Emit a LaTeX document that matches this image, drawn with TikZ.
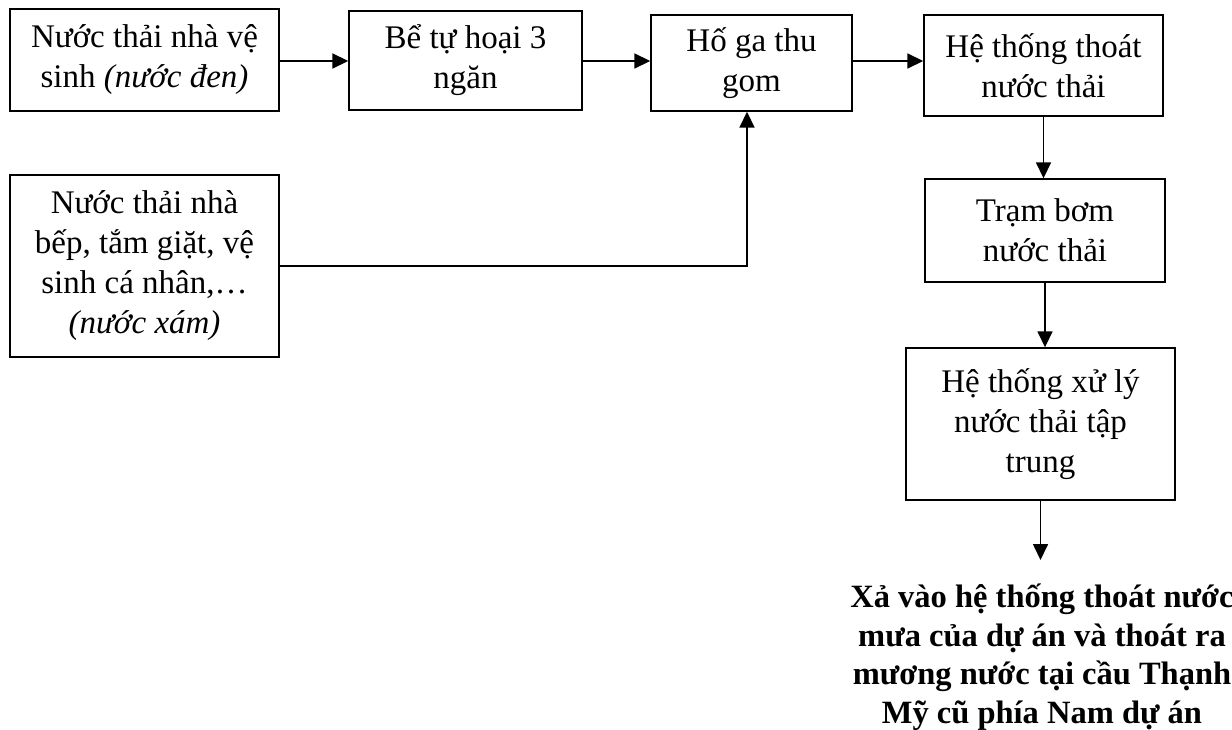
\documentclass[tikz,border=0pt]{standalone}
\usepackage{fontspec}
\setmainfont{Liberation Serif}
\usetikzlibrary{arrows.meta}
\begin{document}
\begin{tikzpicture}[x=1pt,y=-1pt,
  box/.style={draw, line width=1.4pt, align=center, inner sep=0pt, font=\fontsize{33}{40}\selectfont},
  arr/.style={line width=1.7pt, -{Triangle[length=16pt,width=15pt]}}]
\useasboundingbox (0,0) rectangle (1232,730);
\node[box, minimum width=269pt, minimum height=102pt] (b1) at (144.5,60) {Nước thải nhà vệ\\sinh \textit{(nước đen)}};
\node[box, minimum width=233pt, minimum height=99pt] (b2) at (465.5,60.5) {Bể tự hoại 3\\ngăn};
\node[box, minimum width=201pt, minimum height=96pt] (b3) at (751.5,63) {Hố ga thu\\gom};
\node[box, minimum width=239pt, minimum height=101pt] (b4) at (1043.5,65.5) {Hệ thống thoát\\nước thải};
\node[box, minimum width=269pt, minimum height=182pt] (b5) at (144.5,266) {Nước thải nhà\\bếp, tắm giặt, vệ\\sinh cá nhân,…\\\textit{(nước xám)}};
\node[box, minimum width=240pt, minimum height=103pt] (b6) at (1045,230.5) {Trạm bơm\\nước thải};
\node[box, minimum width=269pt, minimum height=152pt] (b7) at (1040.5,424) {Hệ thống xử lý\\nước thải tập\\trung};
\node[align=center, inner xsep=0pt, inner ysep=24pt, anchor=north, font=\bfseries\fontsize{32.5}{38.5}\selectfont] (out) at (1042,560) {Xả vào hệ thống thoát nước\\mưa của dự án và thoát ra\\mương nước tại cầu Thạnh\\Mỹ cũ phía Nam dự án};
\coordinate (r) at (0,61);
\draw[arr] (b1.east |- r) -- (b2.west |- r);
\draw[arr] (b2.east |- r) -- (b3.west |- r);
\draw[arr] (b3.east |- r) -- (b4.west |- r);
\draw[arr] (b5.east) -| ([xshift=-4.5pt]b3.south);
\draw[arr] (b4.south) -- (b4.south |- b6.north);
\draw[arr] (b6.south) -- (b6.south |- b7.north);
\draw[arr] (b7.south) -- (b7.south |- out.north);
\end{tikzpicture}
\end{document}
